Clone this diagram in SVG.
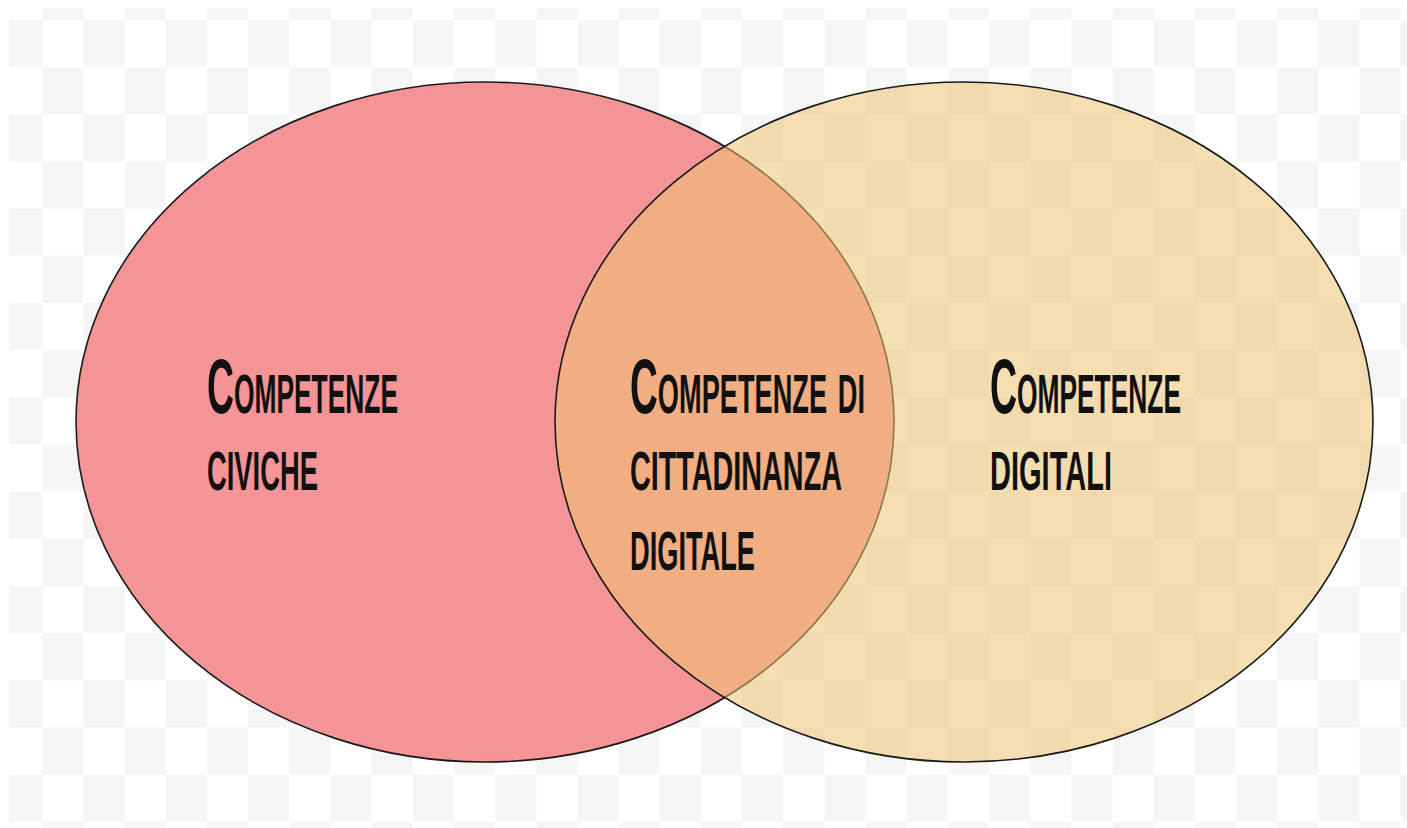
<svg xmlns="http://www.w3.org/2000/svg" width="1407" height="828" viewBox="0 0 1407 828">
<defs>
<pattern id="checker" patternUnits="userSpaceOnUse" x="1.14" y="20" width="82.32" height="94.32">
<rect x="0" y="0" width="82.32" height="94.32" fill="#ffffff"/>
<rect x="0" y="0" width="41.16" height="47.16" fill="#f5f5f5"/>
<rect x="41.16" y="47.16" width="41.16" height="47.16" fill="#f5f5f5"/>
</pattern>
</defs>
<style>
.lbl{font-family:"Liberation Sans","DejaVu Sans",sans-serif;font-weight:bold;font-variant:small-caps;font-size:78px;fill:#111111}
.shape{stroke:#1a1a1a;stroke-width:1.6}
</style>
<rect x="0" y="0" width="1407" height="828" fill="#ffffff"/>
<rect x="9" y="8" width="1398" height="820" fill="url(#checker)"/>
<g id="civiche">
<ellipse class="shape" cx="485" cy="422" rx="409" ry="340" fill="#f59497"/>
</g>
<g id="digitali">
<ellipse class="shape" cx="964" cy="422" rx="409" ry="340" fill="#edc373" fill-opacity="0.55"/>
</g>
<g id="labels">
<text class="lbl" x="207" y="413" textLength="191" lengthAdjust="spacingAndGlyphs">Competenze</text>
<text class="lbl" x="207" y="490" textLength="111" lengthAdjust="spacingAndGlyphs">civiche</text>
<text class="lbl" x="630" y="413" textLength="235" lengthAdjust="spacingAndGlyphs">Competenze di</text>
<text class="lbl" x="630" y="490" textLength="212" lengthAdjust="spacingAndGlyphs">cittadinanza</text>
<text class="lbl" x="630" y="570" textLength="125" lengthAdjust="spacingAndGlyphs">digitale</text>
<text class="lbl" x="990" y="413" textLength="191" lengthAdjust="spacingAndGlyphs">Competenze</text>
<text class="lbl" x="990" y="490" textLength="122" lengthAdjust="spacingAndGlyphs">digitali</text>
</g>
</svg>
